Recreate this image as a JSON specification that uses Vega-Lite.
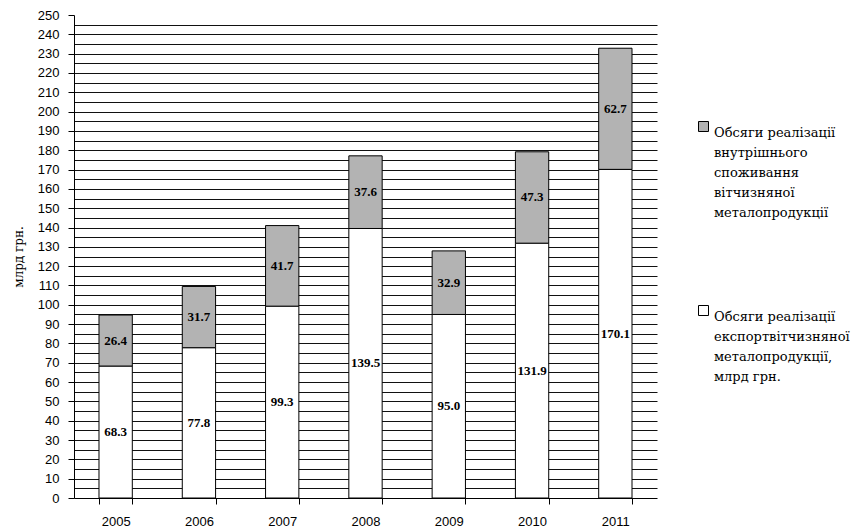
{
  "$schema": "https://vega.github.io/schema/vega-lite/v6.json",
  "width": 583,
  "height": 483,
  "autosize": {"type": "none"},
  "padding": {"left": 74, "top": 15, "right": 198, "bottom": 34},
  "background": "white",
  "data": {
    "values": [
      {"year": "2005", "series": "export", "value": 68.3},
      {"year": "2005", "series": "domestic", "value": 26.4},
      {"year": "2006", "series": "export", "value": 77.8},
      {"year": "2006", "series": "domestic", "value": 31.7},
      {"year": "2007", "series": "export", "value": 99.3},
      {"year": "2007", "series": "domestic", "value": 41.7},
      {"year": "2008", "series": "export", "value": 139.5},
      {"year": "2008", "series": "domestic", "value": 37.6},
      {"year": "2009", "series": "export", "value": 95.0},
      {"year": "2009", "series": "domestic", "value": 32.9},
      {"year": "2010", "series": "export", "value": 131.9},
      {"year": "2010", "series": "domestic", "value": 47.3},
      {"year": "2011", "series": "export", "value": 170.1},
      {"year": "2011", "series": "domestic", "value": 62.7}
    ]
  },
  "transform": [
    {
      "stack": "value",
      "groupby": ["year"],
      "sort": [{"field": "series", "order": "descending"}],
      "as": ["y0", "y1"]
    },
    {"calculate": "(datum.y0 + datum.y1) / 2", "as": "ymid"}
  ],
  "encoding": {
    "x": {
      "field": "year",
      "type": "ordinal",
      "scale": {"paddingInner": 0.6, "paddingOuter": 0.3},
      "axis": {
        "title": null,
        "labelAngle": 0,
        "labelFont": "Liberation Sans",
        "labelFontSize": 13,
        "labelColor": "black",
        "labelPadding": 11,
        "tickBand": "extent",
        "tickSize": 6,
        "tickColor": "black",
        "domainColor": "black",
        "grid": false
      }
    }
  },
  "layer": [
    {
      "mark": {"type": "bar", "stroke": "black", "strokeWidth": 1},
      "encoding": {
        "y": {
          "field": "y1",
          "type": "quantitative",
          "scale": {"domain": [0, 250], "nice": false},
          "axis": {
            "title": "млрд грн.",
            "titleFont": "DejaVu Serif",
            "titleFontSize": 12,
            "titleFontWeight": "normal",
            "titleColor": "black",
            "titlePadding": 12,
            "values": [0, 5, 10, 15, 20, 25, 30, 35, 40, 45, 50, 55, 60, 65, 70, 75, 80, 85, 90, 95, 100, 105, 110, 115, 120, 125, 130, 135, 140, 145, 150, 155, 160, 165, 170, 175, 180, 185, 190, 195, 200, 205, 210, 215, 220, 225, 230, 235, 240, 245, 250],
            "labelExpr": "datum.value % 10 === 0 ? datum.label : ''",
            "labelOverlap": false,
            "labelFont": "Liberation Sans",
            "labelFontSize": 13,
            "labelColor": "black",
            "labelPadding": 9,
            "tickSize": 6,
            "tickColor": "black",
            "tickOpacity": {"condition": {"test": "datum.value % 10 === 0", "value": 1}, "value": 0},
            "domainColor": "black",
            "grid": true,
            "gridColor": "#111111",
            "gridWidth": 1,
            "gridOpacity": {"condition": {"test": "datum.value > 0 && datum.value < 250", "value": 1}, "value": 0}
          }
        },
        "y2": {"field": "y0"},
        "fill": {
          "field": "series",
          "type": "nominal",
          "scale": {"domain": ["domestic", "export"], "range": ["#b3b3b3", "#ffffff"]},
          "legend": {
            "title": null,
            "orient": "none",
            "legendX": 623,
            "legendY": 105,
            "padding": 0,
            "symbolType": "square",
            "symbolSize": 100,
            "symbolStrokeColor": "black",
            "symbolStrokeWidth": 1,
            "labelFont": "DejaVu Serif",
            "labelFontSize": 13,
            "labelColor": "black",
            "labelOffset": 4,
            "labelBaseline": "top",
            "labelLimit": 200,
            "rowPadding": 83,
            "labelExpr": "datum.value === 'domestic' ? ['Обсяги реалізації', 'внутрішнього', 'споживання', 'вітчизняної', 'металопродукції'] : ['Обсяги реалізації', 'експортвітчизняної', 'металопродукції,', 'млрд грн.']"
          }
        }
      }
    },
    {
      "mark": {
        "type": "text",
        "font": "Liberation Serif",
        "fontSize": 13,
        "fontWeight": "bold",
        "color": "black",
        "baseline": "middle",
        "align": "center"
      },
      "encoding": {
        "y": {"field": "ymid", "type": "quantitative", "axis": null},
        "text": {"field": "value", "type": "quantitative", "format": ".1f"}
      }
    }
  ],
  "resolve": {"axis": {"y": "independent"}},
  "config": {
    "view": {"stroke": null},
    "style": {"guide-label": {"lineHeight": 20}}
  }
}
